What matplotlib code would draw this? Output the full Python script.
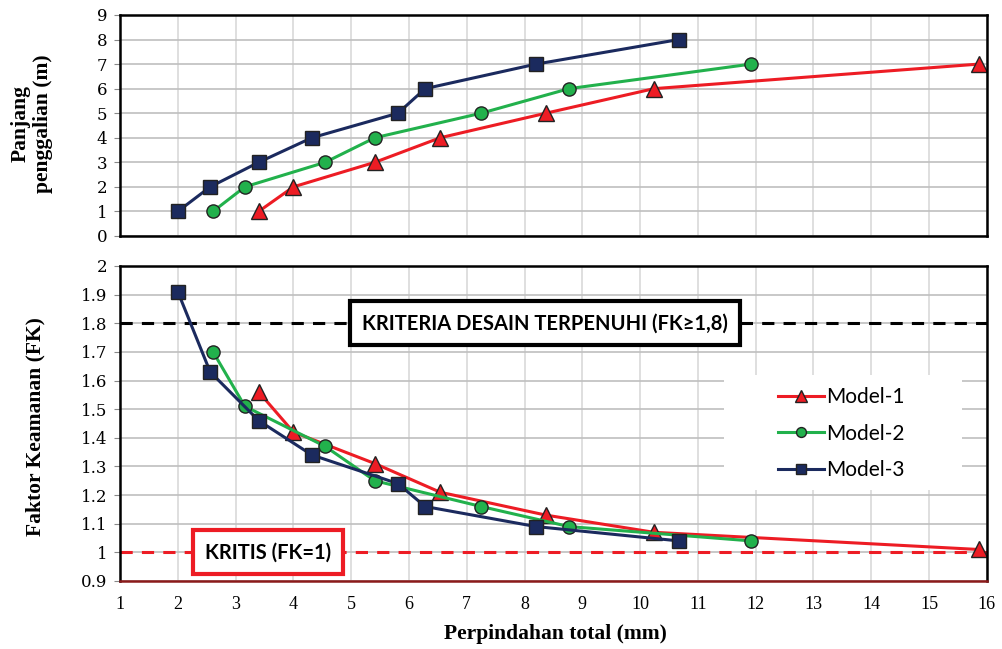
import matplotlib.pyplot as plt
from matplotlib.patches import Rectangle

# displacement (mm) vs excavation depth (m) and safety factor
depth = [1, 2, 3, 4, 5, 6, 7, 8]

disp_m1 = [3.40, 4.00, 5.41, 6.54, 8.37, 10.24, 15.86]
disp_m2 = [2.61, 3.16, 4.55, 5.41, 7.25, 8.77, 11.92]
disp_m3 = [2.00, 2.56, 3.40, 4.32, 5.81, 6.28, 8.20, 10.67]

fk_m1 = [1.56, 1.42, 1.31, 1.21, 1.13, 1.07, 1.01]
fk_m2 = [1.70, 1.51, 1.37, 1.25, 1.16, 1.09, 1.04]
fk_m3 = [1.91, 1.63, 1.46, 1.34, 1.24, 1.16, 1.09, 1.04]

fk_design = 1.8
fk_critical = 1.0

series = [
    ('Model-1', disp_m1, fk_m1, '#ed1c24', '^', 11),
    ('Model-2', disp_m2, fk_m2, '#22b14c', 'o', 9.5),
    ('Model-3', disp_m3, fk_m3, '#1b2a5e', 's', 9.5),
]

serif = 'Liberation Serif'
tick_serif = 'DejaVu Serif'
box_font = ['Lato', 'DejaVu Sans']

fig = plt.figure(figsize=(10.02, 6.49), dpi=100)
ax1 = fig.add_axes([0.1198, 0.6364, 0.865, 0.3405])
ax2 = fig.add_axes([0.1198, 0.1048, 0.865, 0.4854])

for name, xs, fk, col, mk, ms in series:
    ax1.plot(xs, depth[:len(xs)], color=col, lw=2.2, marker=mk, ms=ms,
             mfc=col, mec='#222222', mew=1.0, label=name)
    ax2.plot(xs, fk, color=col, lw=2.2, marker=mk, ms=ms,
             mfc=col, mec='#222222', mew=1.0, label=name)

# top panel
ax1.set_xlim(1, 16)
ax1.set_ylim(0, 9)
ax1.set_xticks(range(1, 17))
ax1.set_yticks(range(0, 10))
ax1.tick_params(axis='x', labelbottom=False, length=0)
ax1.tick_params(axis='y', length=4, color='#888888', labelsize=12, pad=5)

# bottom panel
ax2.set_xlim(1, 16)
ax2.set_ylim(0.9, 2.0)
ax2.set_xticks(range(1, 17))
ax2.set_yticks([0.9, 1, 1.1, 1.2, 1.3, 1.4, 1.5, 1.6, 1.7, 1.8, 1.9, 2])
ax2.set_yticklabels(['0.9', '1', '1.1', '1.2', '1.3', '1.4', '1.5', '1.6',
                     '1.7', '1.8', '1.9', '2'])
ax2.tick_params(axis='x', length=0, labelsize=13, pad=11)
ax2.tick_params(axis='y', length=4, color='#888888', labelsize=12, pad=5)

for ax in (ax1, ax2):
    ax.grid(True, axis='x', color='#d9d9d9', lw=1.2)
    ax.grid(True, axis='y', color='#bfbfbf', lw=1.2)
    ax.set_axisbelow(True)
    for s in ax.spines.values():
        s.set_linewidth(1.8)
        s.set_color('black')
    for lab in ax.get_xticklabels():
        lab.set_family(serif)
    for lab in ax.get_yticklabels():
        lab.set_family(tick_serif)
ax2.spines['bottom'].set_color('#8b1a1a')

# criteria lines
ax2.axhline(fk_design, color='black', lw=2.2, ls=(0, (4, 3)), zorder=1.5)
ax2.axhline(fk_critical, color='#ed1c24', lw=2.2, ls=(0, (4, 3)), zorder=1.5)

ax2.text(8.35, fk_design, 'KRITERIA DESAIN TERPENUHI (FK\u22651,8)',
         ha='center', va='center', fontsize=14.5, fontweight='bold',
         family=box_font, zorder=5,
         bbox=dict(boxstyle='square,pad=0.6', fc='white', ec='black', lw=3))
ax2.text(3.56, fk_critical, 'KRITIS (FK=1)',
         ha='center', va='center', fontsize=14.5, fontweight='bold',
         family=box_font, zorder=5,
         bbox=dict(boxstyle='square,pad=0.6', fc='white', ec='#ed1c24', lw=3))

# white panel behind the legend
ax2.add_patch(Rectangle((0.697, 0.289), 0.2745, 0.365, transform=ax2.transAxes,
                        fc='white', ec='none', zorder=2.5))
leg = ax2.legend(loc='center left', bbox_to_anchor=(0.759, 0.468),
                 frameon=False, handlelength=2.2, handletextpad=0.1,
                 labelspacing=0.8, borderpad=0, borderaxespad=0,
                 markerscale=0.75,
                 prop={'family': box_font, 'size': 15})
leg.set_zorder(3)

# axis titles
fig.text(0.032, 0.809, 'Panjang\npenggalian (m)', rotation=90,
         ha='center', va='center', multialignment='center', fontsize=15.5,
         fontweight='bold', family=serif, linespacing=1.15)
fig.text(0.035, 0.342, 'Faktor Keamanan (FK)', rotation=90,
         ha='center', va='center', fontsize=15.5, fontweight='bold',
         family=serif)
fig.text(0.554, 0.023, 'Perpindahan total (mm)', ha='center', va='center',
         fontsize=15.5, fontweight='bold', family=serif)

fig.savefig('out.png', dpi=100)
